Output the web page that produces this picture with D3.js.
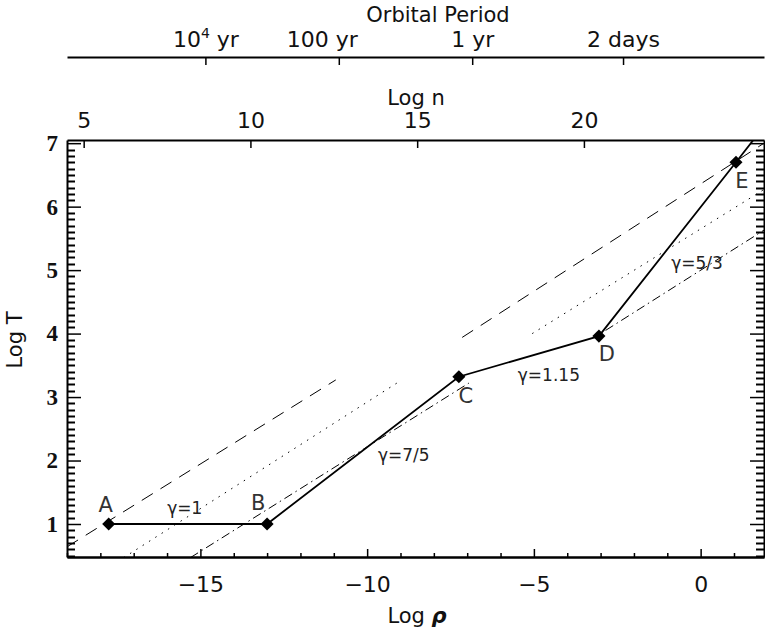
<!DOCTYPE html>
<html>
<head>
<meta charset="utf-8">
<style>
  body { margin: 0; background: #fff; }
  svg text { font-family: "DejaVu Sans", sans-serif; fill: #111; }
  .axis path, .axis line { stroke: #000; }
  .axis text { font-size: 22px; }
  .ylab text { font-family: "Liberation Serif", serif; font-size: 23px; font-weight: bold; }
</style>
<script src="https://d3js.org/d3.v7.min.js"></script>
</head>
<body>
<svg width="765" height="633"></svg>
<script>
// evolutionary track of the collapsing core: log rho vs log T
var trackRho = [-17.75, -13.0, -7.25, -3.05, 1.06, 1.7];
var trackT   = [1.0, 1.0, 3.32, 3.96, 6.70, 7.13];
var pointLabels = ["A", "B", "C", "D", "E"];

// reference lines (two pieces each)
var dashedRho  = [[-19, -10.94], [-7.15, 1.9]];
var dashedT    = [[0.64, 3.27], [3.94, 7.0]];
var dottedRho  = [[-17.3, -9.05], [-5.05, 1.9]];
var dottedT    = [[0.47, 3.24], [4.0, 6.27]];
var dashdotRho = [[-15.3, -6.95], [-2.85, 1.9]];
var dashdotT   = [[0.47, 3.22], [4.05, 5.63]];

// gamma annotations
var gammaText = ["\u03b3=1", "\u03b3=7/5", "\u03b3=1.15", "\u03b3=5/3"];
var gammaRho  = [-15.47, -8.9, -4.55, -0.11];
var gammaT    = [1.25, 2.08, 3.35, 5.11];

// axis ticks
var rhoTicks = [-15, -10, -5, 0];
var nTicks = [5, 10, 15, 20];
var tTicks = [1, 2, 3, 4, 5, 6, 7];
var periodTicks = [4, 2, 0, Math.log10(2 / 365.25)];
var periodLabels = ["10|4| yr", "100 yr", "1 yr", "2 days"];

var svg = d3.select("svg");
var pl = 67, pr = 764, pt = 140, pb = 557;

var x = d3.scaleLinear().domain([-19, 1.9]).range([pl, pr]);
var y = d3.scaleLinear().domain([0.48, 7.05]).range([pb, pt]);
// log n = log rho + 23.5
var xn = d3.scaleLinear().domain([-19 + 23.5, 1.9 + 23.5]).range([pl, pr]);
// log P(yr) = -0.5 (log rho + 6.85)
var xp = d3.scaleLinear().domain([-0.5 * (-19 + 6.85), -0.5 * (1.9 + 6.85)]).range([pl, pr]);

svg.append("clipPath").attr("id", "clip")
  .append("rect").attr("x", pl).attr("y", pt)
  .attr("width", pr - pl).attr("height", pb - pt);

var plot = svg.append("g").attr("clip-path", "url(#clip)");
var line = d3.line().x(function (d) { return x(d[0]); }).y(function (d) { return y(d[1]); });

function refLine(rhos, ts, dash) {
  rhos.forEach(function (r, i) {
    plot.append("path")
      .attr("d", line(d3.zip(r, ts[i])))
      .attr("fill", "none")
      .attr("stroke", "#000")
      .attr("stroke-width", 1)
      .attr("stroke-dasharray", dash);
  });
}
refLine(dashedRho, dashedT, "13,9");
refLine(dottedRho, dottedT, "1.5,6");
refLine(dashdotRho, dashdotT, "9,4,1.5,4");

var track = d3.zip(trackRho, trackT);
plot.append("path")
  .attr("d", line(track))
  .attr("fill", "none")
  .attr("stroke", "#000")
  .attr("stroke-width", 1.8);

var pts = track.slice(0, pointLabels.length);
svg.selectAll(".pt").data(pts).enter().append("path")
  .attr("class", "pt")
  .attr("d", d3.symbol(d3.symbolSquare, 85))
  .attr("transform", function (d) { return "translate(" + x(d[0]) + "," + y(d[1]) + ") rotate(45)"; })
  .attr("fill", "#000");

var labOff = [[-3, -12], [-9, -14], [7, 26], [8, 25], [6, 26]];
svg.selectAll(".plab").data(pts).enter().append("text")
  .attr("class", "plab")
  .attr("x", function (d, i) { return x(d[0]) + labOff[i][0]; })
  .attr("y", function (d, i) { return y(d[1]) + labOff[i][1]; })
  .attr("text-anchor", "middle")
  .style("font-size", "21px")
  .style("fill", "#333")
  .text(function (d, i) { return pointLabels[i]; });

svg.selectAll(".glab").data(gammaText).enter().append("text")
  .attr("class", "glab")
  .attr("x", function (d, i) { return x(gammaRho[i]); })
  .attr("y", function (d, i) { return y(gammaT[i]); })
  .attr("dy", "0.35em")
  .attr("text-anchor", "middle")
  .style("font-size", "17px")
  .style("fill", "#222")
  .text(function (d) { return d; });

// minor ticks: every 0.1 on log T, every 1 on log rho
var tMinor = d3.range(5, 71).filter(function (v) { return v % 10 !== 0; })
  .map(function (v) { return v / 10; });
var rhoMinor = d3.range(-19, 2).filter(function (v) { return v % 5 !== 0; });

function styleAxis(g, w) {
  g.attr("class", "axis");
  g.select(".domain").attr("stroke-width", w);
  g.selectAll(".tick line").attr("stroke-width", 1.5);
}

// log T minor ticks on both sides
[[pl, 8], [pr, -8]].forEach(function (side) {
  svg.append("g").selectAll("line").data(tMinor).enter().append("line")
    .attr("x1", side[0]).attr("x2", side[0] + side[1])
    .attr("y1", function (d) { return Math.round(y(d)) + 0.5; })
    .attr("y2", function (d) { return Math.round(y(d)) + 0.5; })
    .attr("stroke", "#000").attr("stroke-width", 2);
});

// left
svg.append("g").attr("transform", "translate(" + pl + ",0)")
  .call(d3.axisLeft(y).tickValues(tTicks).tickSize(-14).tickSizeOuter(0).tickPadding(9).tickFormat(d3.format("d")))
  .call(styleAxis, 2)
  .classed("ylab", true);
// right
svg.append("g").attr("transform", "translate(" + pr + ",0)")
  .call(d3.axisRight(y).tickValues(tTicks).tickSize(-14).tickSizeOuter(0).tickFormat(""))
  .call(styleAxis, 2);
// bottom
svg.append("g").attr("transform", "translate(0," + pb + ")")
  .call(d3.axisBottom(x).tickValues(rhoMinor).tickSize(-4).tickSizeOuter(0).tickFormat(""))
  .call(styleAxis, 2);
svg.append("g").attr("transform", "translate(0," + pb + ")")
  .call(d3.axisBottom(x).tickValues(rhoTicks).tickSize(-8).tickSizeOuter(0).tickPadding(19)
    .tickFormat(function (d) { return d < 0 ? "\u2212" + Math.abs(d) : d; }))
  .call(styleAxis, 2);
// top: log n
svg.append("g").attr("transform", "translate(0," + pt + ")")
  .call(d3.axisTop(xn).tickValues(nTicks).tickSize(-8).tickSizeOuter(0).tickPadding(12))
  .call(styleAxis, 2);
// orbital period axis
var pAxis = svg.append("g").attr("transform", "translate(0,57)")
  .call(d3.axisTop(xp).tickValues(periodTicks).tickSize(-8).tickSizeOuter(0).tickPadding(10).tickFormat(""))
  .call(styleAxis, 2);
pAxis.selectAll(".tick").append("text")
  .attr("y", -10)
  .attr("dx", function (d, i) { return i === 1 ? -17 : 0; })
  .attr("text-anchor", "middle")
  .attr("fill", "#111")
  .each(function (d, i) {
    var parts = periodLabels[i].split("|");
    var t = d3.select(this);
    t.append("tspan").text(parts[0]);
    if (parts.length > 1) {
      t.append("tspan").attr("dy", -9).style("font-size", "14px").text(parts[1]);
      t.append("tspan").attr("dy", 9).text(parts[2]);
    }
  });

// titles
svg.append("text").attr("x", 438).attr("y", 22).attr("text-anchor", "middle")
  .style("font-size", "21px").text("Orbital Period");
svg.append("text").attr("x", 416).attr("y", 105).attr("text-anchor", "middle")
  .style("font-size", "21px").text("Log n");
var xt = svg.append("text").attr("x", 417).attr("y", 623).attr("text-anchor", "middle")
  .style("font-size", "21px");
xt.append("tspan").text("Log ");
xt.append("tspan").style("font-style", "italic").style("font-weight", "bold").text("\u03c1");
svg.append("text").attr("transform", "translate(22,340) rotate(-90)").attr("text-anchor", "middle")
  .style("font-size", "21px").text("Log T");
</script>
</body>
</html>
